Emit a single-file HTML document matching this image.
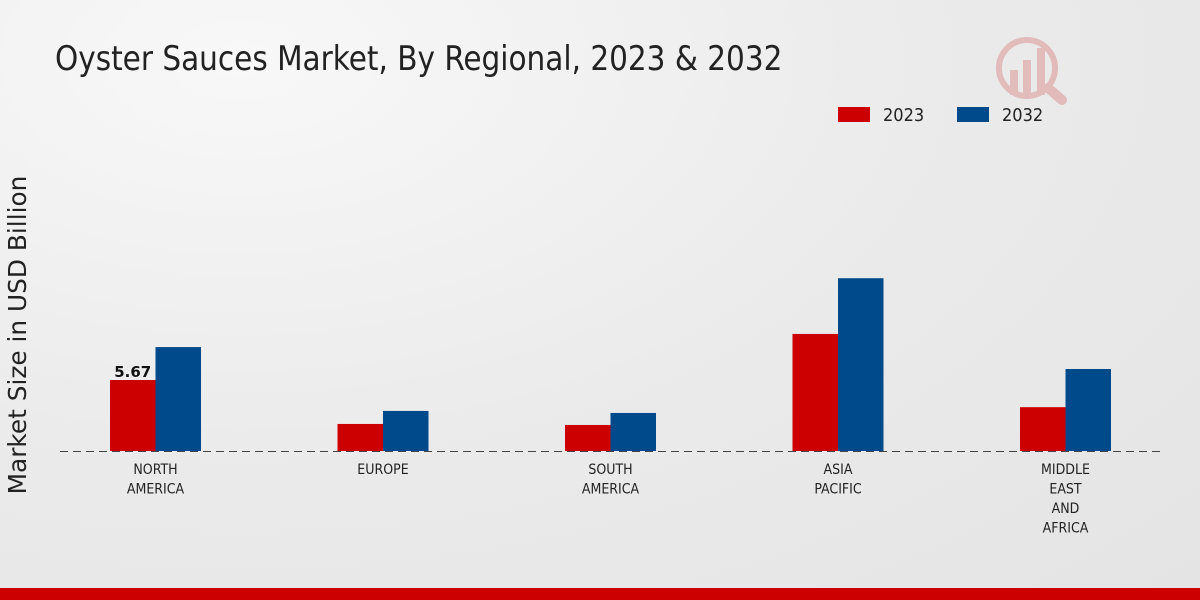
<!DOCTYPE html>
<html><head><meta charset="utf-8"><style>
html,body{margin:0;padding:0;width:1200px;height:600px;overflow:hidden}
body{background:radial-gradient(ellipse at 20% 10%,#f8f8f8 0%,#ebebeb 50%,#e4e4e4 100%);font-family:"DejaVu Sans","Liberation Sans",sans-serif}
</style></head><body>
<svg id="chart" width="1200" height="600" xmlns="http://www.w3.org/2000/svg">
<text x="55" y="70" font-size="34" fill="#222" transform="scale(0.966,1)" transform-origin="55 70" font-family="DejaVu Sans Condensed, DejaVu Sans, sans-serif">Oyster Sauces Market, By Regional, 2023 &amp; 2032</text>
<text transform="translate(26,335) rotate(-90)" text-anchor="middle" font-size="24.8" fill="#222">Market Size in USD Billion</text>
<g>
<rect x="838" y="107" width="32" height="15" fill="#cc0000"/>
<text x="883" y="121" font-size="18" fill="#222" font-family="DejaVu Sans Condensed, DejaVu Sans, sans-serif">2023</text>
<rect x="957" y="107" width="32" height="15" fill="#004a8c"/>
<text x="1002" y="121" font-size="18" fill="#222" font-family="DejaVu Sans Condensed, DejaVu Sans, sans-serif">2032</text>
</g>
<g id="bars"></g>
<line x1="60" y1="451.5" x2="1160" y2="451.5" stroke="#444" stroke-dasharray="8,5" stroke-width="1"/>
<g id="labels"></g>
<rect x="0" y="588" width="1200" height="12" fill="#cc0000"/>
<g opacity="0.25">
<circle cx="1027" cy="68" r="28" fill="none" stroke="#c33" stroke-width="6"/>
<rect x="1010" y="70" width="8" height="25" fill="#c33"/><rect x="1023" y="60" width="8" height="35" fill="#c33"/><rect x="1037" y="48" width="8" height="47" fill="#c33"/>
<line x1="1048" y1="88" x2="1062" y2="100" stroke="#c33" stroke-width="10" stroke-linecap="round"/>
</g>
</svg>
<script>
const categories=[["NORTH","AMERICA"],["EUROPE"],["SOUTH","AMERICA"],["ASIA","PACIFIC"],["MIDDLE","EAST","AND","AFRICA"]];
const values2023=[5.67,2.16,2.08,9.35,3.5];
const values2032=[8.3,3.2,3.04,13.8,6.55];
const dataLabels=["5.67","","","",""];
const NS="http://www.w3.org/2000/svg";
const baseY=451, pxPer=12.52, x0=155.5, step=227.5, bw=45.5;
const yS=v=>baseY-v*pxPer, xS=i=>x0+i*step;
const bars=document.getElementById('bars'), labels=document.getElementById('labels');
function mk(t,a){const e=document.createElementNS(NS,t);for(const k in a)e.setAttribute(k,a[k]);return e;}
categories.forEach((c,i)=>{
 const r=mk('rect',{x:xS(i)-bw,y:yS(values2023[i]),width:bw,height:baseY-yS(values2023[i]),fill:'#cc0000'});
 
 
 bars.appendChild(r);
 const b=mk('rect',{x:xS(i),y:yS(values2032[i]),width:bw,height:baseY-yS(values2032[i]),fill:'#004a8c'});
 
 
 bars.appendChild(b);
 c.forEach((ln,j)=>{
  const t=mk('text',{x:xS(i),y:474+j*19.5,'text-anchor':'middle','font-size':'14',fill:'#222','font-family':'DejaVu Sans Condensed, DejaVu Sans, sans-serif'});
  t.textContent=ln;
  
  
  labels.appendChild(t);
 });
 if(dataLabels[i]){
  const t=mk('text',{x:xS(i)-bw/2,y:yS(values2023[i])-3,'text-anchor':'middle','font-size':'15','font-weight':'bold',fill:'#111'});
  t.textContent=dataLabels[i];
  
  
  labels.appendChild(t);
 }
});
</script>
</body></html>
